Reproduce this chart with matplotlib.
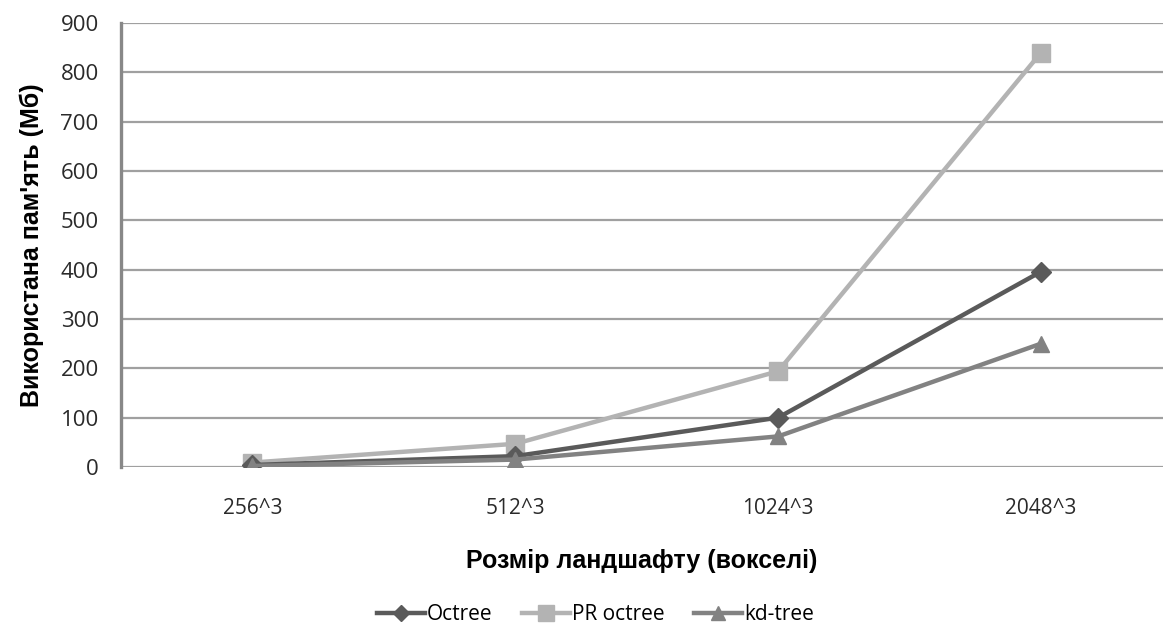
import numpy as np
from matplotlib import pyplot as plt

# data
sizes = ["256^3", "512^3", "1024^3", "2048^3"]
octree = [4, 22, 100, 396]
pr_octree = [9, 47, 194, 840]
kd_tree = [2, 15, 62, 250]

fig = plt.figure(figsize=(11.63, 6.28), dpi=100)
ax = fig.add_axes([0.104, 0.2564, 0.896, 0.707])

x = np.arange(len(sizes))

ax.plot(x, octree, color="#5a5a5a", lw=3.2, marker="D", ms=10, label="Octree", zorder=4)
ax.plot(x, pr_octree, color="#b3b3b3", lw=3.2, marker="s", ms=13, label="PR octree", zorder=3)
ax.plot(x, kd_tree, color="#828282", lw=3.2, marker="^", ms=12, label="kd-tree", zorder=5)

ax.set_ylim(0, 900)
ax.set_yticks(range(0, 901, 100))
ax.set_xlim(-0.5, 3.464)
ax.set_xticks(x)
ax.set_xticklabels(sizes)

ax.grid(axis="y", color="#a0a0a0", lw=1.6)
ax.set_axisbelow(True)
for s in ["top", "right", "bottom"]:
    ax.spines[s].set_visible(False)
ax.spines["left"].set_color("#888888")
ax.spines["left"].set_linewidth(2.4)

ax.tick_params(axis="y", length=0, pad=16, labelsize=16, labelcolor="#2a2a2a")
ax.tick_params(axis="x", length=0, pad=22, labelsize=15, labelcolor="#2a2a2a")
for lab in ax.get_xticklabels() + ax.get_yticklabels():
    lab.set_family("Open Sans")

ax.set_xlabel("Розмір ландшафту (вокселі)", fontsize=18, fontweight="bold",
              family="Liberation Sans", labelpad=22)
ax.set_ylabel("Використана пам'ять (Мб)", fontsize=18, fontweight="bold",
              family="Liberation Sans", labelpad=12)

leg = fig.legend(loc="center", bbox_to_anchor=(0.512, 0.021), ncol=3, frameon=False,
                 prop={"family": "Open Sans", "size": 15}, handlelength=2.3,
                 handletextpad=0.1, columnspacing=1.4, markerscale=0.85)

fig.savefig("out.png", dpi=100)
